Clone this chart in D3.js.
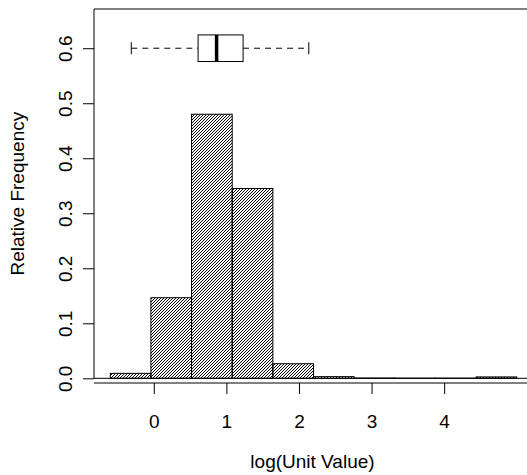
<!DOCTYPE html>
<html>
<head>
<meta charset="utf-8">
<style>
  body { margin: 0; background: #fff; }
  text { font-family: "Liberation Sans", Arial, sans-serif; fill: #000; }
</style>
</head>
<body>
<svg width="527" height="475"></svg>
<script src="https://d3js.org/d3.v7.min.js"></script>
<script>
  // histogram bins of log(unit value), relative frequency per bin
  var binEdges = [-0.6, -0.04, 0.52, 1.08, 1.64, 2.2, 2.76, 3.32, 3.88, 4.44, 5.0];
  var binFreq = [0.009, 0.1465, 0.48, 0.345, 0.0265, 0.003, 0.0005, 0.0003, 0.0003, 0.0025];

  // boxplot summary drawn above the histogram
  var boxStats = { min: -0.31, q1: 0.61, median: 0.865, q3: 1.23, max: 2.135 };
  var boxLevel = 0.6;

  var xTicks = [0, 1, 2, 3, 4];
  var yTicks = [0.0, 0.1, 0.2, 0.3, 0.4, 0.5, 0.6];

  var svg = d3.select("svg");
  var fs = 19;

  var x = d3.scaleLinear().domain([-0.824, 5.224]).range([94, 533]);
  var y = d3.scaleLinear().domain([0, 0.6713]).range([378.3, 9]);

  // hatch pattern (like R density lines at 45 degrees)
  var defs = svg.append("defs");
  var pat = defs.append("pattern")
    .attr("id", "hatch")
    .attr("patternUnits", "userSpaceOnUse")
    .attr("width", 3).attr("height", 3);
  pat.append("path")
    .attr("d", "M-1,1 l2,-2 M0,3 l3,-3 M2,4 l2,-2")
    .attr("stroke", "#000").attr("stroke-width", 1);

  // bars
  var bars = binFreq.map(function(f, i) {
    return { x0: binEdges[i], x1: binEdges[i + 1], f: f };
  });
  svg.append("g").selectAll("rect")
    .data(bars)
    .enter().append("rect")
    .attr("x", function(d) { return x(d.x0); })
    .attr("width", function(d) { return x(d.x1) - x(d.x0); })
    .attr("y", function(d) { return y(d.f); })
    .attr("height", function(d) { return y(0) - y(d.f); })
    .attr("fill", "url(#hatch)")
    .attr("stroke", "#000")
    .attr("stroke-width", 1);

  // frame: top line, zero line
  svg.append("line")
    .attr("x1", 94).attr("x2", 533).attr("y1", 9).attr("y2", 9)
    .attr("stroke", "#000");
  svg.append("line")
    .attr("x1", 94).attr("x2", 533).attr("y1", y(0)).attr("y2", y(0))
    .attr("stroke", "#000");

  // y axis
  var yAxis = svg.append("g").attr("transform", "translate(94,0)")
    .call(d3.axisLeft(y).tickValues(yTicks).tickSize(11).tickFormat(d3.format(".1f")));
  yAxis.select(".domain").attr("d", "M0," + y(0) + "V9");
  yAxis.selectAll("line, path").attr("stroke", "#000");
  yAxis.selectAll("text")
    .attr("font-size", fs)
    .attr("text-anchor", "middle")
    .attr("dy", null)
    .attr("x", null)
    .attr("transform", "translate(-22,0) rotate(-90)");

  // x axis (drawn a bit below the zero line)
  var xAxis = svg.append("g").attr("transform", "translate(0,383)")
    .call(d3.axisBottom(x).tickValues(xTicks).tickSize(11).tickFormat(d3.format("d")));
  xAxis.select(".domain").attr("d", "M94,0H533");
  xAxis.selectAll("line, path").attr("stroke", "#000");
  xAxis.selectAll("text")
    .attr("font-size", fs)
    .attr("dy", null)
    .attr("y", 45);

  // axis titles
  svg.append("text")
    .attr("x", (94 + 531) / 2).attr("y", 468)
    .attr("text-anchor", "middle").attr("font-size", fs)
    .text("log(Unit Value)");
  svg.append("text")
    .attr("transform", "translate(23.5," + (9 + 378.3) / 2 + ") rotate(-90)")
    .attr("text-anchor", "middle").attr("font-size", fs)
    .text("Relative Frequency");

  // horizontal boxplot
  var by = y(boxLevel), bh = 13.3, cap = 6;
  var bp = svg.append("g").attr("stroke", "#000").attr("fill", "none");
  bp.append("line")
    .attr("x1", x(boxStats.min)).attr("x2", x(boxStats.q1))
    .attr("y1", by).attr("y2", by).attr("stroke-dasharray", "6,5");
  bp.append("line")
    .attr("x1", x(boxStats.q3)).attr("x2", x(boxStats.max))
    .attr("y1", by).attr("y2", by).attr("stroke-dasharray", "6,5");
  bp.append("line")
    .attr("x1", x(boxStats.min)).attr("x2", x(boxStats.min))
    .attr("y1", by - cap).attr("y2", by + cap);
  bp.append("line")
    .attr("x1", x(boxStats.max)).attr("x2", x(boxStats.max))
    .attr("y1", by - cap).attr("y2", by + cap);
  bp.append("rect")
    .attr("x", x(boxStats.q1)).attr("width", x(boxStats.q3) - x(boxStats.q1))
    .attr("y", by - bh).attr("height", 2 * bh)
    .attr("fill", "#fff");
  bp.append("line")
    .attr("x1", x(boxStats.median)).attr("x2", x(boxStats.median))
    .attr("y1", by - bh).attr("y2", by + bh)
    .attr("stroke-width", 3.5);
</script>
</body>
</html>
